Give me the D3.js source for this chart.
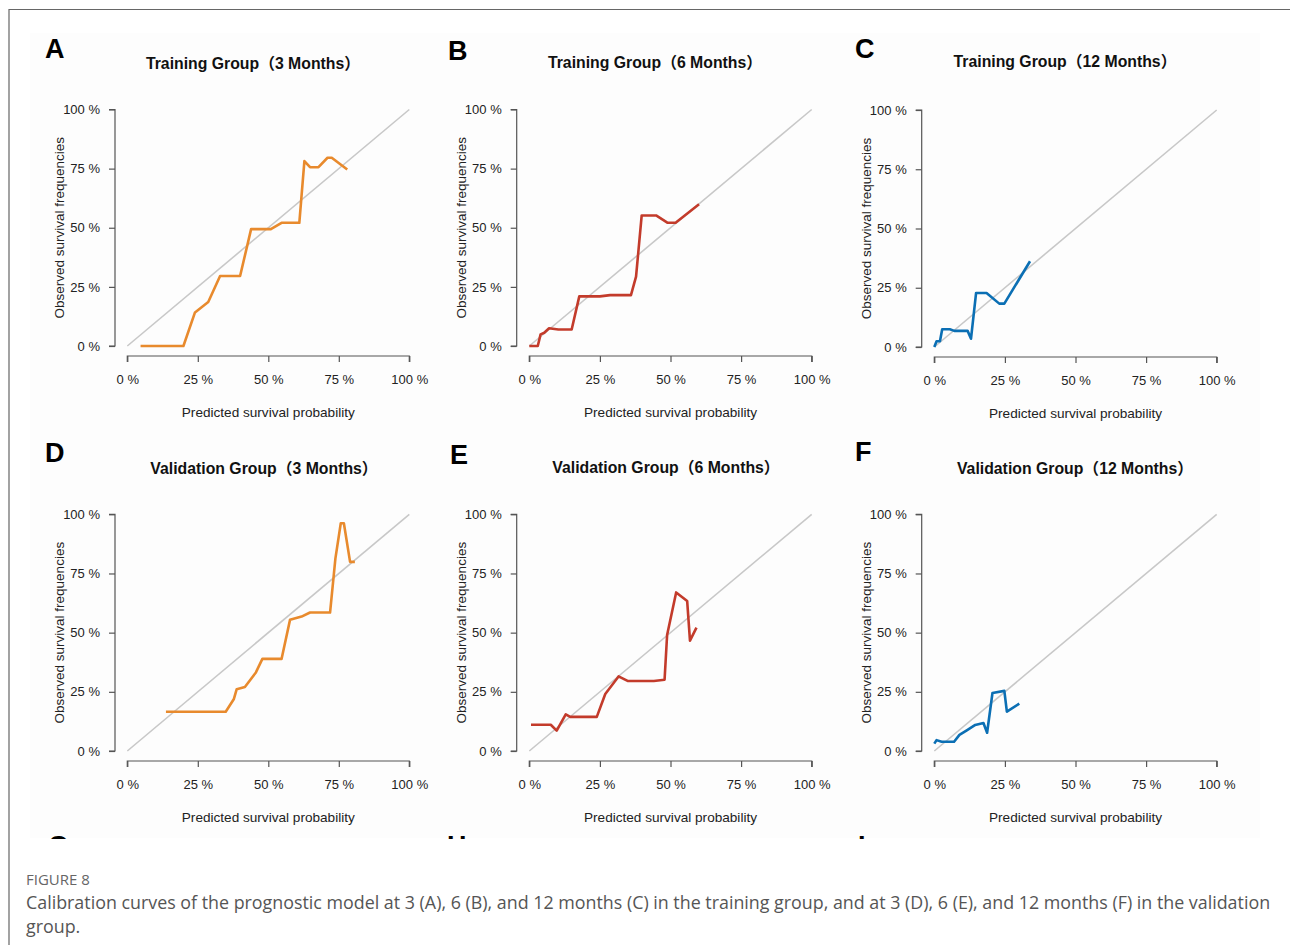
<!DOCTYPE html>
<html>
<head>
<meta charset="utf-8">
<script src="https://cdn.jsdelivr.net/npm/d3@7"></script>
<style>
  body { margin: 0; background: #fff; }
  svg { display: block; }
</style>
</head>
<body>
<div id="fig"></div>
<script>
// calibration curves (predicted %, observed %)
const predA = [4.7, 19.9, 24.0, 28.7, 32.9, 40.0, 43.9, 50.9, 54.7, 61.0, 62.8, 64.8, 67.8, 71.0, 72.5, 78.0];
const obsA  = [0, 0, 14.2, 18.6, 29.6, 29.6, 49.4, 49.4, 52.1, 52.1, 78.2, 75.6, 75.6, 79.6, 79.6, 74.6];

const predB = [0, 3.0, 4.0, 5.3, 7.0, 10.3, 15.0, 17.7, 25.0, 28.6, 36.0, 37.8, 39.8, 44.9, 49.0, 51.8, 60.1];
const obsB  = [0, 0, 4.9, 5.6, 7.5, 7.0, 7.0, 21.0, 21.0, 21.5, 21.5, 29.3, 55.2, 55.2, 52.1, 52.1, 59.9];

const predC = [0, 0.8, 2.0, 2.8, 5.5, 7.1, 11.8, 13.0, 14.8, 18.5, 23.0, 24.8, 33.9];
const obsC  = [0, 2.4, 2.4, 7.5, 7.5, 6.8, 6.8, 3.5, 22.8, 22.8, 18.3, 18.3, 36.2];

const predD = [13.7, 34.9, 37.8, 38.8, 41.7, 45.6, 47.9, 54.7, 57.7, 61.8, 64.8, 71.9, 73.8, 75.7, 76.8, 79.0, 80.7];
const obsD  = [16.6, 16.6, 22.0, 26.1, 27.0, 33.2, 38.9, 38.9, 55.4, 56.8, 58.5, 58.5, 81.4, 96.2, 96.2, 79.9, 79.9];

const predE = [0.6, 7.6, 9.7, 12.9, 14.5, 23.9, 26.9, 31.6, 34.8, 44.1, 47.9, 48.8, 52.0, 55.9, 56.9, 59.2];
const obsE  = [11.1, 11.1, 8.6, 15.5, 14.4, 14.4, 24.1, 31.5, 29.6, 29.6, 30.1, 49.0, 67.0, 63.4, 46.6, 52.1];

const predF = [0, 0.8, 2.6, 7.0, 8.9, 11.5, 14.5, 17.4, 18.7, 20.6, 24.8, 25.7, 30.1];
const obsF  = [3.1, 4.6, 3.9, 3.9, 6.8, 8.7, 11.0, 11.8, 7.7, 24.5, 25.4, 16.6, 20.0];

const tickValues = [0, 25, 50, 75, 100];
const tickLabels = ["0 %", "25 %", "50 %", "75 %", "100 %"];

const panelLetters = ["A", "B", "C", "D", "E", "F"];
const panelTitles = [
  "Training Group（3 Months）", "Training Group（6 Months）", "Training Group（12 Months）",
  "Validation Group（3 Months）", "Validation Group（6 Months）", "Validation Group（12 Months）"
];

const W = 1290, H = 945;
const svg = d3.select("#fig").append("svg").attr("width", W).attr("height", H);

const sans = "'Liberation Sans', Arial, 'Noto Sans CJK SC', sans-serif";

// figure frame
svg.append("rect").attr("x", 30).attr("y", 33).attr("width", 1230).attr("height", 805).attr("fill", "#fdfdfd");
svg.append("path").attr("d", "M9,945 V9.5 H1290").attr("fill", "none").attr("stroke", "#666").attr("stroke-width", 1.2);

// panel layout: x pixel range, y pixel range (0 -> 100), y-axis position, title centre, letter position
const layout = [
  { x: [127.3, 409.3], y: [346, 109.5], ax: 115, tx: 253, ty: 63, lx: 45, ly: 58 },
  { x: [529.3, 811.7], y: [346, 109.5], ax: 516.7, tx: 655, ty: 62, lx: 448, ly: 60 },
  { x: [934.3, 1216.7], y: [347, 110], ax: 921.7, tx: 1065, ty: 61, lx: 855, ly: 58 },
  { x: [127.3, 409.3], y: [751, 514.3], ax: 115, tx: 264, ty: 468, lx: 45, ly: 462 },
  { x: [529.3, 811.7], y: [751, 514.3], ax: 516.7, tx: 666, ty: 467, lx: 450, ly: 464 },
  { x: [934.3, 1216.7], y: [751, 514.3], ax: 921.7, tx: 1075, ty: 468, lx: 855, ly: 461 }
];

const series = [
  { pred: predA, obs: obsA, color: "#E88A2D" },
  { pred: predB, obs: obsB, color: "#C33B2B" },
  { pred: predC, obs: obsC, color: "#0B6FB4" },
  { pred: predD, obs: obsD, color: "#E88A2D" },
  { pred: predE, obs: obsE, color: "#C33B2B" },
  { pred: predF, obs: obsF, color: "#0B6FB4" }
];

layout.forEach((L, i) => {
  const x = d3.scaleLinear().domain([0, 100]).range(L.x);
  const y = d3.scaleLinear().domain([0, 100]).range(L.y);
  const g = svg.append("g");
  const axisY0 = L.y[0] + 10;

  // letter and title
  g.append("text").attr("x", L.lx).attr("y", L.ly)
    .attr("font-family", sans).attr("font-weight", "bold").attr("font-size", 27)
    .text(panelLetters[i]);
  g.append("text").attr("x", L.tx).attr("y", L.ty).attr("dy", "0.35em")
    .attr("text-anchor", "middle").attr("font-family", sans).attr("font-weight", "bold")
    .attr("font-size", 15.8).attr("fill", "#111").text(panelTitles[i]);

  // axes
  const xAxis = d3.axisBottom(x).tickValues(tickValues).tickSize(6).tickPadding(13)
    .tickFormat((d, k) => tickLabels[k]);
  const yAxis = d3.axisLeft(y).tickValues(tickValues).tickSize(6).tickPadding(9)
    .tickFormat((d, k) => tickLabels[k]);

  const gx = g.append("g").attr("transform", `translate(0,${axisY0})`).call(xAxis);
  const gy = g.append("g").attr("transform", `translate(${L.ax},0)`).call(yAxis);
  [gx, gy].forEach(a => {
    a.select(".domain").attr("stroke", "#555").attr("stroke-width", 1.2);
    a.selectAll(".tick line").attr("stroke", "#555").attr("stroke-width", 1.2);
    a.selectAll(".tick text").attr("font-family", sans).attr("font-size", 13).attr("fill", "#222");
  });
  // R-style axis: no outer tick stubs
  gx.select(".domain").attr("d", `M${L.x[0]},6V0H${L.x[1]}V6`);
  gy.select(".domain").attr("d", `M-6,${L.y[0]}H0V${L.y[1]}H-6`);

  // axis titles
  g.append("text").attr("x", (L.x[0] + L.x[1]) / 2).attr("y", axisY0 + 61)
    .attr("text-anchor", "middle").attr("font-family", sans).attr("font-size", 13.6).attr("fill", "#222")
    .text("Predicted survival probability");
  g.append("text")
    .attr("transform", `translate(${L.ax - 51},${(L.y[0] + L.y[1]) / 2}) rotate(-90)`)
    .attr("text-anchor", "middle").attr("font-family", sans).attr("font-size", 13.5).attr("fill", "#222")
    .text("Observed survival frequencies");

  // ideal line
  g.append("line").attr("x1", x(0)).attr("y1", y(0)).attr("x2", x(100)).attr("y2", y(100))
    .attr("stroke", "#c8c8c8").attr("stroke-width", 1.6);

  // calibration curve
  const s = series[i];
  const pts = s.pred.map((p, k) => [p, s.obs[k]]);
  g.append("path").datum(pts)
    .attr("d", d3.line().x(d => x(d[0])).y(d => y(d[1])))
    .attr("fill", "none").attr("stroke", s.color).attr("stroke-width", 2.6)
    .attr("stroke-linejoin", "round");
});

// tops of the next row's letters, cut off by the figure edge
const clip = svg.append("clipPath").attr("id", "cut");
clip.append("rect").attr("x", 0).attr("y", 0).attr("width", W).attr("height", 839);
const cutG = svg.append("g").attr("clip-path", "url(#cut)");
[["G", 48], ["H", 447], ["I", 858]].forEach(([t, px]) => {
  cutG.append("text").attr("x", px).attr("y", 855).attr("font-family", sans)
    .attr("font-weight", "bold").attr("font-size", 27).text(t);
});

// caption
svg.append("text").attr("x", 26).attr("y", 885).attr("font-family", "'Open Sans', sans-serif")
  .attr("font-size", 15).attr("fill", "#666").text("FIGURE 8");
const cap = svg.append("text").attr("font-family", "'Open Sans', sans-serif").attr("font-size", 17.85).attr("fill", "#555");
cap.append("tspan").attr("x", 26).attr("y", 909)
  .text("Calibration curves of the prognostic model at 3 (A), 6 (B), and 12 months (C) in the training group, and at 3 (D), 6 (E), and 12 months (F) in the validation");
cap.append("tspan").attr("x", 26).attr("y", 933).text("group.");
</script>
</body>
</html>
